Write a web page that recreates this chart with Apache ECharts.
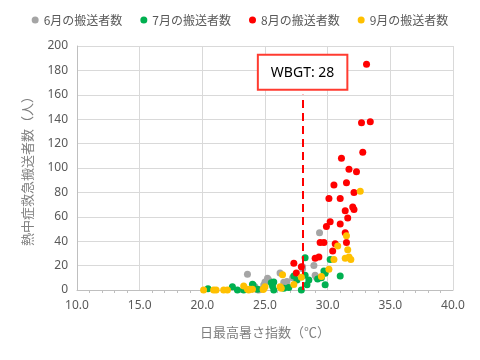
<!DOCTYPE html>
<html><head><meta charset="utf-8">
<script src="https://cdn.jsdelivr.net/npm/echarts@6/dist/echarts.min.js"></script>
<style>html,body{margin:0;padding:0;background:#fff}#c{width:480px;height:360px}</style>
</head><body><div id="c"></div>
<script>
const seriesNames = ['6月の搬送者数','7月の搬送者数','8月の搬送者数','9月の搬送者数'];
const seriesColors = ['#a5a5a5','#00b050','#ff0000','#ffc000'];
const xTicks = [10,15,20,25,30,35,40];
const yTicks = [0,20,40,60,80,100,120,140,160,180,200];
const wbgt = 28;
const wbgtLineTop = 160;

const june = [[29.35,47],[28.9,20],[29.0,12],[29.1,10.5],[23.6,13],[26.2,14],[25.2,9.6],[25.3,8.2],[25.0,6.6],[24.9,4],[26.5,6.3],[26.6,4.1],[24.2,2.7],[24.5,0],[24.4,0.3],[28.0,17.5],[28.0,19],[26.75,7],[24.6,0.5],[27.2,10]];
const july = [[28.2,26.5],[30.2,25],[29.7,15.5],[29.8,13.7],[29.5,10],[29.2,9],[31.0,11.5],[29.8,4.3],[28.35,4.3],[28.5,8.2],[27.9,0],[27.3,11.5],[27.55,8.2],[28.2,12],[25.7,0],[25.6,3.3],[25.5,6],[25.7,6.6],[26.5,1.4],[24.05,4.1],[23.3,0],[24.4,0.6],[20.45,1.1],[22.4,2.7],[22.8,0],[24.0,4.7],[26.9,2]];
const august = [[33.1,185],[32.7,137],[33.4,138],[31.1,108],[32.8,113],[31.7,99],[32.3,97],[30.5,86],[31.5,88],[32.1,80],[30.1,75],[31.0,75],[31.4,65],[32.1,66],[32.0,68],[31.6,59],[30.2,56],[29.9,52],[31.0,54],[31.4,47],[29.4,39],[29.7,39],[31.5,39],[30.4,32],[29.3,27],[29.0,26],[27.3,22],[27.9,19],[27.5,14],[30.6,38]];
const september = [[32.6,81],[31.5,44.5],[30.8,36],[31.6,33],[31.4,26],[31.7,27],[31.85,25],[30.5,25],[30.1,17],[29.5,11],[27.9,10.5],[27.3,4.5],[26.4,12.5],[26.2,2.7],[26.3,1.5],[25.0,2.7],[24.85,0.5],[23.8,0.6],[23.6,0.6],[23.3,3.3],[20.1,0],[20.9,0],[21.1,0],[21.7,0],[22.0,0],[23.7,0],[24.0,0.6],[24.9,1]];
const allData = [june, july, august, september];

const numFont = '"Noto Sans", "Liberation Sans", sans-serif';
const jpFont = '"Noto Sans CJK JP", sans-serif';

const chart = echarts.init(document.getElementById('c'), null, {renderer:'canvas'});
const series = allData.map((d,i)=>({
  name: seriesNames[i], type:'scatter', data:d, symbolSize:7,
  itemStyle:{color:seriesColors[i], opacity:1}, z: 2+i
}));
series[2].markLine = {
  silent:true, symbol:['none','none'],
  lineStyle:{color:'#ff0000', type:[8,5], width:2},
  label:{show:true, position:'end', formatter:'WBGT: ' + wbgt, color:'#000', fontSize:14,
    fontFamily:numFont, backgroundColor:'#fff', borderColor:'#ff3b30', borderWidth:2,
    padding:[10,12,9,12], distance:6},
  data:[[{coord:[wbgt,0]},{coord:[wbgt,wbgtLineTop]}]]
};
chart.setOption({
  animation:false,
  grid:{left:77, right:27, top:46, bottom:70},
  legend:{top:9, left:'center', itemWidth:7, itemHeight:7, itemGap:18, icon:'circle',
    textStyle:{color:'#595959', fontSize:12, fontFamily:jpFont},
    data:seriesNames},
  xAxis:{type:'value', min:xTicks[0], max:xTicks[xTicks.length-1], interval:5,
    name:'日最高暑さ指数（℃）', nameLocation:'middle', nameGap:36,
    nameTextStyle:{color:'#7f7f7f', fontSize:13, fontFamily:jpFont},
    axisLine:{show:true, lineStyle:{color:'#bfbfbf'}},
    axisTick:{show:false},
    minorTick:{show:true, splitNumber:5, length:3, lineStyle:{color:'#bfbfbf'}},
    axisLabel:{color:'#595959', fontSize:12, fontFamily:numFont, margin:10, formatter:v=>v.toFixed(1)},
    splitLine:{show:true, lineStyle:{color:'#d9d9d9', width:1}}},
  yAxis:{type:'value', min:yTicks[0], max:yTicks[yTicks.length-1], interval:20,
    name:'熱中症救急搬送者数（人）', nameLocation:'middle', nameGap:43,
    nameTextStyle:{color:'#7f7f7f', fontSize:13, fontFamily:jpFont},
    axisLine:{show:true, lineStyle:{color:'#bfbfbf'}},
    axisTick:{show:false},
    axisLabel:{color:'#595959', fontSize:12, fontFamily:numFont, margin:9},
    splitLine:{show:true, lineStyle:{color:'#d9d9d9', width:1}}},
  series: series
});
</script></body></html>
